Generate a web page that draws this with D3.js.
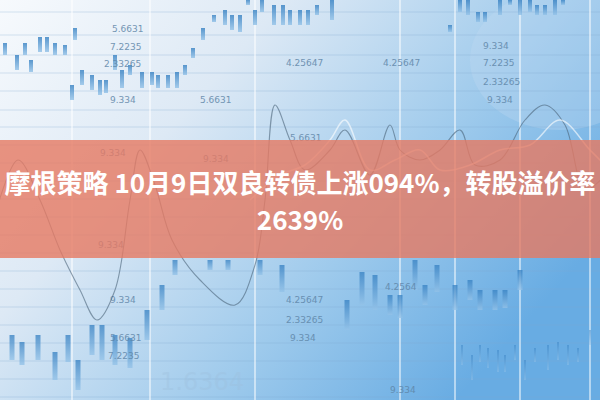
<!DOCTYPE html>
<html><head><meta charset="utf-8">
<script src="https://cdn.jsdelivr.net/npm/d3@7"></script>
<style>html,body{margin:0;padding:0;overflow:hidden;background:#fff}</style>
</head><body>
<svg id="c" width="600" height="400"></svg>
<script>
// ---- data ----
const titleLine1 = "摩根策略 10月9日双良转债上涨094%，转股溢价率";
const titleLine2 = "2639%";
// upper candles: x position, low, high (pixel-like units)
const upX  = [5,17,25,31,40,47,55,65,75,72,82,92,100,106,115,122,130,142,152,158,168,177,185,193,203,214,225,232,240,248,255,262,274,283,290,300,308,317,332,450,460,468,478,485,500,510,520,530,537,545,555,563];
const upLo = [43,55,43,60,37,37,43,45,28,85,70,75,80,80,55,70,65,72,72,75,75,72,65,48,28,15,10,15,15,0,10,0,5,5,10,10,10,5,0,25,0,0,12,12,0,0,0,0,5,5,0,0];
const upHi = [55,70,55,72,52,52,55,55,40,100,85,90,95,93,70,88,75,88,85,88,88,88,75,58,40,22,25,30,32,5,25,12,25,25,25,25,25,15,20,32,12,15,22,22,15,5,15,12,15,15,15,5];
// lower candles
const loX  = [12,22,38,55,68,78,92,102,115,130,147,162,175,210,228,260,282,347,362,375,390,400,415,425,437,455,470,480,495,505,520];
const loLo = [335,342,335,352,335,360,325,325,335,338,310,285,260,260,260,260,265,300,272,275,295,295,260,285,265,285,280,290,290,290,270];
const loHi = [360,365,360,380,362,390,355,360,365,368,340,310,275,270,270,275,292,330,305,310,315,318,290,305,292,310,300,310,310,308,290];
// small faint ticks bottom right
const tkX  = [462,472,480,488,498,505,515,525,535,548,558,568,578,590];
const tkLo = [345,355,345,348,350,355,345,360,348,345,342,345,348,330];
const tkHi = [365,380,362,368,372,372,360,380,362,370,360,365,362,345];
// number labels
const labelText = ["5.6631","7.2235","2.33265","9.334","5.6631","4.25647","4.25647","9.334","7.2235","2.33265","9.334","5.6631","9.334","9.334","9.334","9.334","5.6631","7.2235","4.25647","2.33265","9.334","4.2564","9.334"];
const labelX    = [112,110,104,110,200,286,383,483,483,483,487,290,100,203,98,110,110,108,286,286,290,385,390];
const labelY    = [32,50,67,103,103,66,66,49,66,85,103,141,156,162,248,303,341,359,303,323,341,290,393];
// dark curve points
const curveX = [-5,18,40,60,80,97,115,130,140,155,172,200,235,255,265,275,290,305,330,345,370,390,400,420,440,460,475,500,525,545,565,585,605];
const curveY = [215,160,200,250,290,320,290,200,150,185,240,280,305,265,200,105,140,170,150,130,175,125,150,160,150,130,165,160,120,105,125,190,175];
// light curve points
const lightX = [250,280,305,330,345,370,395,420,440,470,500,530,560,590,605];
const lightY = [200,175,165,140,120,170,160,150,170,165,150,145,120,150,165];
const gridY = [12,35,55,73,91,110,127,145,163,181,199,217,235,253,271,289,307,325,343,361,379,397];
const gridX = [72,150,255,400,455,520,590];

const W = 600, H = 400;
const svg = d3.select("#c");
const x = d3.scaleLinear().domain([0,600]).range([0,W]);
const y = d3.scaleLinear().domain([0,400]).range([0,H]);

const defs = svg.append("defs");
const bg = defs.append("linearGradient").attr("id","bg").attr("x1","0").attr("y1","0").attr("x2","1").attr("y2","0.6");
bg.append("stop").attr("offset","0").attr("stop-color","#f7fafd");
bg.append("stop").attr("offset","0.35").attr("stop-color","#dde9f5");
bg.append("stop").attr("offset","0.7").attr("stop-color","#9ecaec");
bg.append("stop").attr("offset","1").attr("stop-color","#68ace3");
const cg = defs.append("linearGradient").attr("id","cg").attr("x1","0").attr("y1","0").attr("x2","0").attr("y2","1");
cg.append("stop").attr("offset","0").attr("stop-color","#3580c2");
cg.append("stop").attr("offset","1").attr("stop-color","#93c2e8");

svg.append("rect").attr("width",W).attr("height",H).attr("fill","url(#bg)");

// faint glow
svg.append("ellipse").attr("cx",x(560)).attr("cy",y(60)).attr("rx",90).attr("ry",70).attr("fill","#c4dcf2").attr("opacity",0.3);

// grid
svg.append("g").selectAll("line").data(gridY).join("line")
  .attr("x1",0).attr("x2",W).attr("y1",d=>y(d)).attr("y2",d=>y(d))
  .attr("stroke","#7fa9cf").attr("stroke-opacity",0.3).attr("stroke-width",1);
svg.append("g").selectAll("line").data(gridX).join("line")
  .attr("y1",0).attr("y2",H).attr("x1",d=>x(d)).attr("x2",d=>x(d))
  .attr("stroke","#ffffff").attr("stroke-opacity",0.5).attr("stroke-width",2);

// faint big digits
svg.append("text").attr("x",x(160)).attr("y",y(390)).text("1.6364")
  .attr("font-family","DejaVu Sans").attr("font-size",24).attr("fill","#9dbfdc").attr("opacity",0.35);

function candles(X,L,Hh,w,op){
  svg.append("g").selectAll("rect").data(X).join("rect")
    .attr("x",(d)=>x(d)-w/2).attr("width",w)
    .attr("y",(d,i)=>y(L[i])).attr("height",(d,i)=>y(Hh[i])-y(L[i]))
    .attr("fill","url(#cg)").attr("opacity",op);
}
candles(upX,upLo,upHi,4,0.8);
candles(loX,loLo,loHi,5,0.75);
candles(tkX,tkLo,tkHi,2,0.45);

// labels
svg.append("g").selectAll("text").data(labelText).join("text")
  .attr("x",(d,i)=>x(labelX[i])).attr("y",(d,i)=>y(labelY[i])).text(d=>d)
  .attr("font-family","DejaVu Sans").attr("font-size",9).attr("fill","#5f86a8").attr("opacity",0.85);

// curves
const line = d3.line().curve(d3.curveCatmullRom);
svg.append("path").attr("d",line(curveX.map((d,i)=>[x(d),y(curveY[i])])))
  .attr("fill","none").attr("stroke","#4a6378").attr("stroke-width",1.1).attr("opacity",0.6);
svg.append("path").attr("d",line(lightX.map((d,i)=>[x(d),y(lightY[i])])))
  .attr("fill","none").attr("stroke","#ffffff").attr("stroke-width",1.5).attr("opacity",0.6);

// band
svg.append("rect").attr("x",0).attr("y",y(140)).attr("width",W).attr("height",y(258)-y(140))
  .attr("fill","rgb(230,121,97)").attr("opacity",0.8);

// title
const tf = "'Noto Sans CJK SC', 'Noto Sans', sans-serif";
svg.append("text").attr("x",W/2).attr("y",y(193)).attr("text-anchor","middle").text(titleLine1)
  .attr("font-family",tf).attr("font-weight",700).attr("font-size",26).attr("fill","#ffffff");
svg.append("text").attr("x",W/2).attr("y",y(230)).attr("text-anchor","middle").text(titleLine2)
  .attr("font-family",tf).attr("font-weight",700).attr("font-size",26).attr("fill","#ffffff");
</script>
</body></html>
